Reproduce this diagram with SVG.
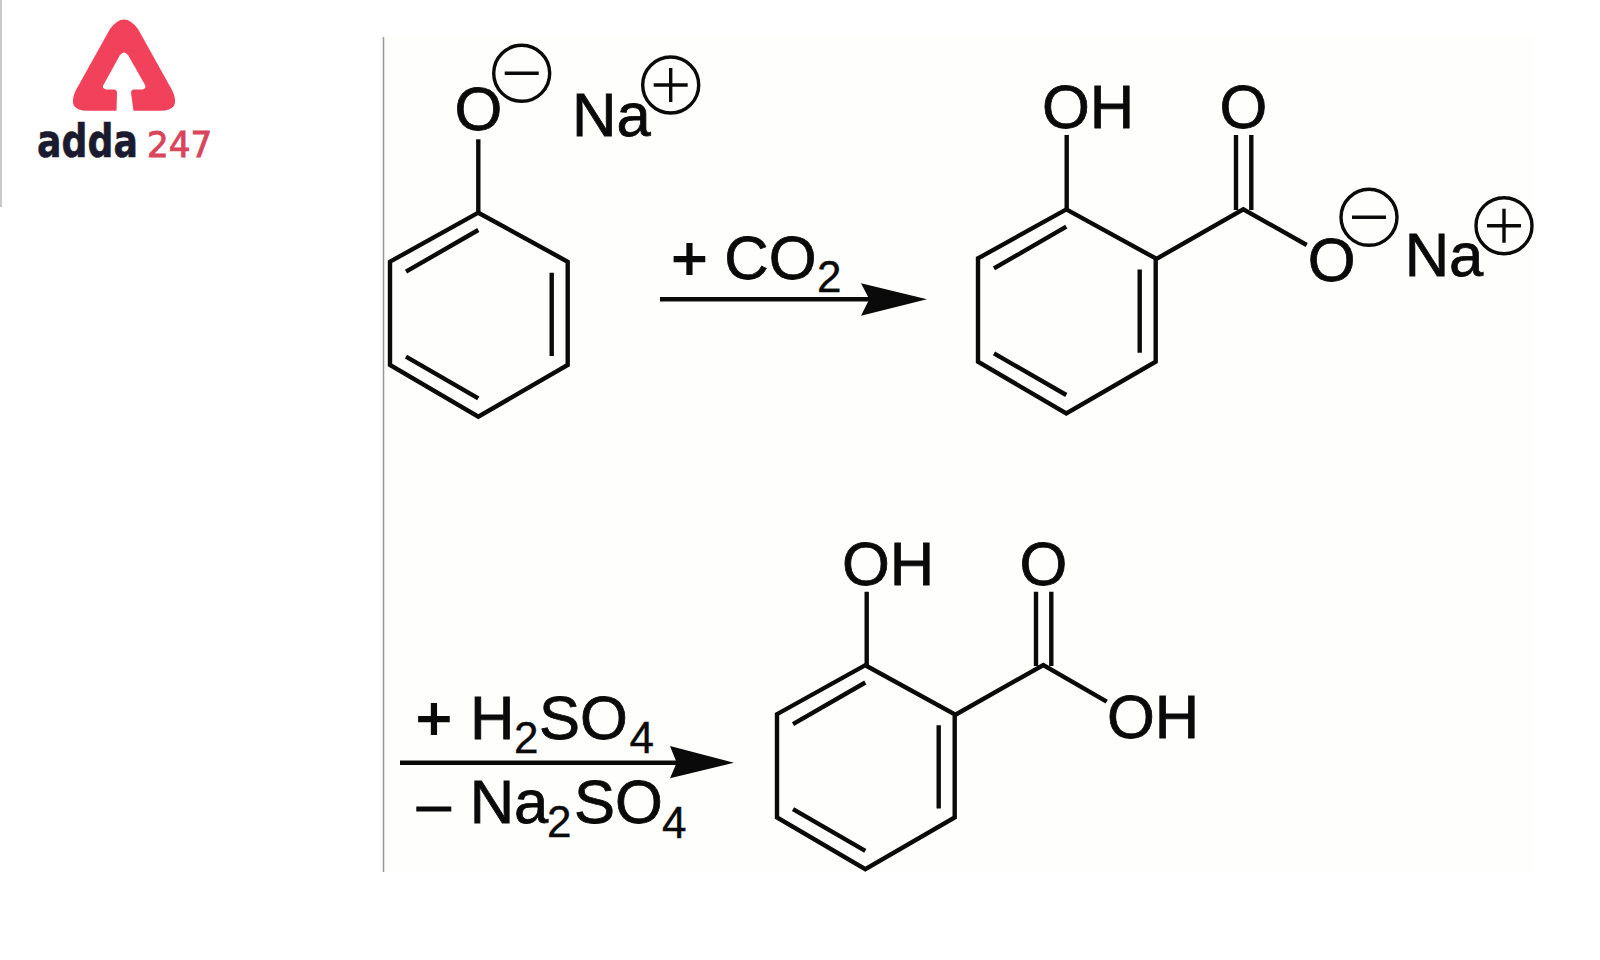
<svg xmlns="http://www.w3.org/2000/svg" width="1600" height="960" viewBox="0 0 1600 960">
<style>
text{font-family:"Liberation Sans",Arial,sans-serif;fill:#0a0a0a}
.t{font-size:61.5px;stroke:#0a0a0a;stroke-width:.8px}
.s{font-size:44px;stroke:#0a0a0a;stroke-width:.4px}
.p{font-size:61.5px;stroke:#0a0a0a;stroke-width:1.8px}
.b{fill:none;stroke:#0a0a0a;stroke-width:4.4;stroke-linejoin:miter}
.c{fill:none;stroke:#0a0a0a;stroke-width:3.4}
.h{fill:#0a0a0a}
</style>
<defs>
<g id="ring"><path class="b" d="M478.3 212.7L567.7 261.7V365L478.3 416.7L390 365V261.7Z"/><path class="b" d="M406 271.7L478.3 230M551.7 272.7V356M406 356.7L478.3 398.3"/></g>
<g id="minus"><circle class="c" r="28"/><path class="c" d="M-17 0H17"/></g>
<g id="plus"><circle class="c" r="28"/><path class="c" d="M-17 0H17M0 -17V17"/></g>
</defs>
<rect width="1600" height="960" fill="#fff"/>
<rect x="384" y="37" width="1150" height="835" fill="#fefefd"/>
<path d="M1 0V207" stroke="#c8c8c8" stroke-width="2"/>
<path d="M383.5 37V872" stroke="#999" stroke-width="1.5"/>
<g id="logo">
<path fill="#f1415b" fill-rule="evenodd" d="M116.5 110.7H88Q66 110.7 76 90L110 29Q124 10 138 29L172 90Q182 110.7 160 110.7H133.5L131 93Q131 89.5 134 89.5H143Q147 88 144.5 84L128 55Q124 50 120 55L104 84Q101 88 106 89.5H114Q117 89.5 117 93Z"/>
<text transform="translate(37 157) scale(.772 1)" font-size="47" font-weight="700" style="font-family:'DejaVu Sans',sans-serif;fill:#1a1b2e;stroke:#1a1b2e;stroke-width:.6px">adda</text>
<text transform="translate(147 157) scale(.95 1)" font-size="36" style="font-family:'DejaVu Sans',sans-serif;fill:#d9455a;stroke:#d9455a;stroke-width:.9px">247</text>
</g>
<g id="connectors">
<path class="b" d="M478.3 139.3V212.7"/>
<path class="b" d="M660 299.3H872"/><path class="h" d="M861 283.3L927 299.3L861 315.7L869.3 299.3Z"/>
<path class="b" d="M1066.7 135V209.3M1155.7 259.3L1243.3 209.3L1306.7 245M1236 135V210M1251.3 135V210"/>
<path class="b" d="M400 762.7H680"/><path class="h" d="M670 746L734 762.7L670 778.3L676.7 762.7Z"/>
<path class="b" d="M866.7 591.7V665M955 715L1043.3 665L1106.7 701.7M1036 591.7V666M1051.3 591.7V666"/>
</g>
<g id="phenoxide"><use href="#ring"/><text class="t" x="454.5" y="130">O</text><use href="#minus" x="521.7" y="73.3"/><text class="t" x="572" y="136">Na</text><use href="#plus" x="670.7" y="85"/></g>
<g id="co2-label"><text class="p" x="671.5" y="278.5">+</text><text class="t" x="724.3" y="278.5">CO</text><text class="s" x="817" y="291.7">2</text></g>
<g id="salicylate"><use href="#ring" x="588" y="-3.3"/><text class="t" x="1042" y="127.5">OH</text><text class="t" x="1219.5" y="127.5">O</text><text class="t" x="1307.7" y="281">O</text><use href="#minus" x="1369" y="217.3"/><text class="t" x="1404.7" y="276">Na</text><use href="#plus" x="1504" y="225.7"/></g>
<g id="h2so4-label"><text class="p" x="416" y="739.3">+</text><text class="t" x="470" y="739.3">H</text><text class="s" x="514" y="752.7">2</text><text class="t" x="539" y="739.3">SO</text><text class="s" x="629.5" y="752.7">4</text></g>
<g id="na2so4-label"><text class="t" x="416.7" y="824.5">–</text><text class="t" x="469.7" y="822.7">Na</text><text class="s" x="547" y="836.7">2</text><text class="t" x="574" y="822.7">SO</text><text class="s" x="662" y="838">4</text></g>
<g id="salicylic-acid"><use href="#ring" x="387" y="452.5"/><text class="t" x="842" y="584.5">OH</text><text class="t" x="1019.6" y="584.5">O</text><text class="t" x="1107" y="738">OH</text></g>
</svg>
